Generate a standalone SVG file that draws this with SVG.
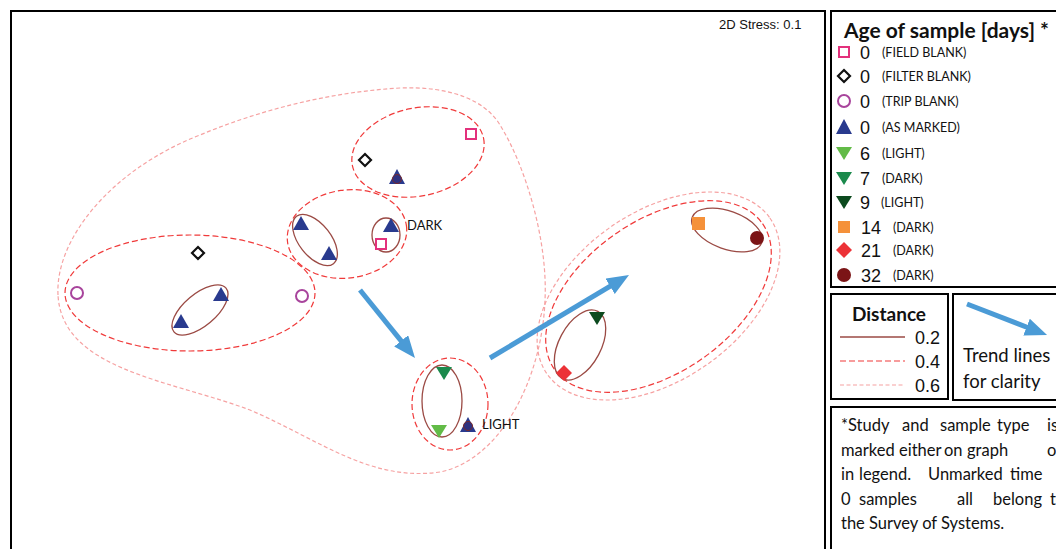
<svg xmlns="http://www.w3.org/2000/svg" width="1056" height="549" viewBox="0 0 1056 549">
<style>
.frame{fill:none;stroke:#000;stroke-width:2}
.d2{fill:none;stroke:#9b4a44;stroke-width:1.3}
.d4{fill:none;stroke:#f03a3a;stroke-width:1.2;stroke-dasharray:6 3}
.d6{fill:none;stroke:#f6a2a2;stroke-width:1.2;stroke-dasharray:4 2.5}
.tri{fill:#293a8e}
.sqp{fill:#fff;stroke:#e3317c;stroke-width:2}
.dia{fill:#fff;stroke:#111;stroke-width:2.2}
.cir{fill:#fff;stroke:#a8449c;stroke-width:2}
.dot{fill:#2f3280;stroke:#7a2a2a;stroke-width:1}
.lab{font-family:Lato,"Open Sans",sans-serif;fill:#111}
.num{font-family:"Liberation Sans",Arial,sans-serif;fill:#111}
.arr{stroke:#4b9bd6;stroke-width:5;fill:none}
</style>
<defs>
<marker id="ah" markerUnits="userSpaceOnUse" markerWidth="24" markerHeight="20" refX="8" refY="9" orient="auto" viewBox="0 0 24 20">
<path d="M0,0 L22,9 L0,18 Z" fill="#4b9bd6"/>
</marker>
</defs>
<rect width="1056" height="549" fill="#fff"/>

<!-- frames -->
<g id="frames">
<rect class="frame" x="11" y="11" width="814" height="560"/>
<rect class="frame" x="831" y="11" width="240" height="276"/>
<rect class="frame" x="831" y="294" width="117" height="105"/>
<rect class="frame" x="953" y="294" width="120" height="106"/>
<rect class="frame" x="831" y="407" width="240" height="160"/>
</g>

<text class="num" x="719" y="29" font-size="13" fill="#333">2D Stress: 0.1</text>

<!-- cluster outlines -->
<g id="clusters">
<path class="d6" d="M58,295 C55,240 110,170 200,135 C260,110 330,92 400,88 C450,86 485,100 500,125 C525,165 548,240 545,300 C542,380 500,460 440,472 C370,482 320,440 250,410 C170,380 62,370 58,295 Z"/>
<ellipse class="d4" cx="190" cy="293" rx="125" ry="58"/>
<ellipse class="d2" cx="200" cy="310" rx="34" ry="16" transform="rotate(-40 200 310)"/>
<ellipse class="d4" cx="418" cy="152" rx="67" ry="44" transform="rotate(-12 418 152)"/>
<ellipse class="d4" cx="347" cy="234" rx="60" ry="44" transform="rotate(-8 347 234)"/>
<ellipse class="d2" cx="315" cy="240" rx="30" ry="16" transform="rotate(52 315 240)"/>
<ellipse class="d2" cx="386" cy="235" rx="14" ry="17"/>
<ellipse class="d4" cx="450" cy="404" rx="38" ry="46"/>
<ellipse class="d2" cx="442" cy="401" rx="20" ry="36"/>
<ellipse class="d6" cx="658.5" cy="296" rx="136" ry="84" transform="rotate(-35 658.5 296)"/>
<ellipse class="d4" cx="658.5" cy="296.5" rx="127" ry="76" transform="rotate(-35 658.5 296.5)"/>
<ellipse class="d2" cx="727" cy="230" rx="37" ry="19" transform="rotate(20 727 230)"/>
<ellipse class="d2" cx="580" cy="345" rx="38" ry="21" transform="rotate(-62 580 345)"/>
</g>

<!-- trend arrows -->
<g id="connectors">
<line class="arr" x1="360" y1="290" x2="406.2" y2="347.1" marker-end="url(#ah)"/>
<line class="arr" x1="490" y1="358" x2="617" y2="282.2" marker-end="url(#ah)"/>
</g>

<!-- sample points -->
<g id="points">
<g id="left-cluster">
<circle class="cir" cx="77" cy="293" r="6"/>
<circle class="cir" cx="302" cy="296" r="6"/>
<polygon class="dia" points="198,247 204,253 198,259 192,253"/>
<polygon class="tri" points="221,287 229,301 213,301"/>
<polygon class="tri" points="181,314 189,328 173,328"/>
</g>
<g id="top-cluster">
<rect class="sqp" x="466" y="129" width="10" height="10"/>
<polygon class="dia" points="365,154 371,160 365,166 359,160"/>
<polygon class="tri" points="397,169 405,184 389,184"/>
<circle class="dot" cx="397" cy="179" r="4.5"/>
</g>
<g id="middle-cluster">
<polygon class="tri" points="301,216 309,230 293,230"/>
<polygon class="tri" points="329,246 337,260 321,260"/>
<polygon class="tri" points="391,218 399,232 383,232"/>
<rect class="sqp" x="376" y="239" width="10" height="10"/>
<text class="lab" x="407" y="230" font-size="13">DARK</text>
</g>
<g id="light-cluster">
<polygon points="436,367 452,367 444,380" fill="#1b8a4c"/>
<polygon points="431,425 447,425 439,438" fill="#62bb47"/>
<polygon class="tri" points="468,417 476,432 460,432"/>
<circle class="dot" cx="468" cy="426" r="4.5"/>
<text class="lab" x="482" y="429" font-size="13">LIGHT</text>
</g>
<g id="right-cluster">
<rect x="692" y="217" width="13" height="13" fill="#f5913a"/>
<circle cx="757" cy="238" r="7" fill="#7b1416"/>
<polygon points="589,312 605,312 597,325" fill="#0c4a1e"/>
<polygon points="564,365 572,373 564,381 556,373" fill="#ec3237"/>
</g>
</g>

<!-- legend -->
<g id="legend-age">
<text class="lab" x="844" y="38" font-size="21" font-weight="bold">Age of sample [days] *</text>
<rect class="sqp" x="839" y="47" width="10" height="10"/>
<polygon class="dia" points="844,70 850,76 844,82 838,76"/>
<circle class="cir" cx="844" cy="101" r="6"/>
<polygon points="844,119 852,134 836,134" fill="#293a8e"/>
<polygon points="836,147 852,147 844,160" fill="#62bb47"/>
<polygon points="836,172 852,172 844,185" fill="#1b8a4c"/>
<polygon points="836,196 852,196 844,209" fill="#0c4a1e"/>
<rect x="838" y="221" width="12" height="12" fill="#f5913a"/>
<polygon points="844,242 852,250 844,258 836,250" fill="#ec3237"/>
<circle cx="844" cy="275" r="7" fill="#7b1416"/>
<g class="num" font-size="18">
<text x="860" y="58.5">0</text>
<text x="860" y="82.5">0</text>
<text x="860" y="107.5">0</text>
<text x="860" y="133.5">0</text>
<text x="860" y="159.5">6</text>
<text x="860" y="184.5">7</text>
<text x="860" y="208.5">9</text>
<text x="861" y="233.5">14</text>
<text x="861" y="256.5">21</text>
<text x="861" y="281.5">32</text>
</g>
<g class="lab" font-size="12.5">
<text x="882" y="56.5">(FIELD BLANK)</text>
<text x="882" y="80.5">(FILTER BLANK)</text>
<text x="882" y="105.5">(TRIP BLANK)</text>
<text x="882" y="131.5">(AS MARKED)</text>
<text x="882" y="157.5">(LIGHT)</text>
<text x="882" y="182.5">(DARK)</text>
<text x="881" y="206.5">(LIGHT)</text>
<text x="893" y="231.5">(DARK)</text>
<text x="893" y="254.5">(DARK)</text>
<text x="893" y="279.5">(DARK)</text>
</g>
</g>

<g id="legend-distance">
<text class="lab" x="889" y="321" font-size="19" font-weight="bold" text-anchor="middle">Distance</text>
<line class="d2" x1="840" y1="337" x2="905" y2="337"/>
<line class="d4" x1="840" y1="361" x2="905" y2="361"/>
<line class="d6" x1="840" y1="385" x2="905" y2="385"/>
<g class="num" font-size="18">
<text x="915" y="344">0.2</text>
<text x="915" y="368">0.4</text>
<text x="915" y="392">0.6</text>
</g>
</g>

<g id="legend-trend">
<line class="arr" x1="967" y1="304" x2="1034" y2="330" marker-end="url(#ah)"/>
<text class="lab" x="963" y="362" font-size="18.5">Trend lines</text>
<text class="lab" x="963" y="388" font-size="18.5">for clarity</text>
</g>

<g id="legend-note" class="lab" font-size="16.5">
<text y="431"><tspan x="841">*Study</tspan><tspan x="902">and</tspan><tspan x="940">sample</tspan><tspan x="997">type</tspan><tspan x="1047">is</tspan></text>
<text y="455.5"><tspan x="841">marked</tspan><tspan x="899">either</tspan><tspan x="944">on</tspan><tspan x="967">graph</tspan><tspan x="1047">or</tspan></text>
<text y="480"><tspan x="841">in</tspan><tspan x="859">legend.</tspan><tspan x="928">Unmarked</tspan><tspan x="1010">time</tspan></text>
<text y="504.5"><tspan x="841">0</tspan><tspan x="859">samples</tspan><tspan x="957">all</tspan><tspan x="993">belong</tspan><tspan x="1050">to</tspan></text>
<text y="529" x="841">the Survey of Systems.</text>
</g>
</svg>
